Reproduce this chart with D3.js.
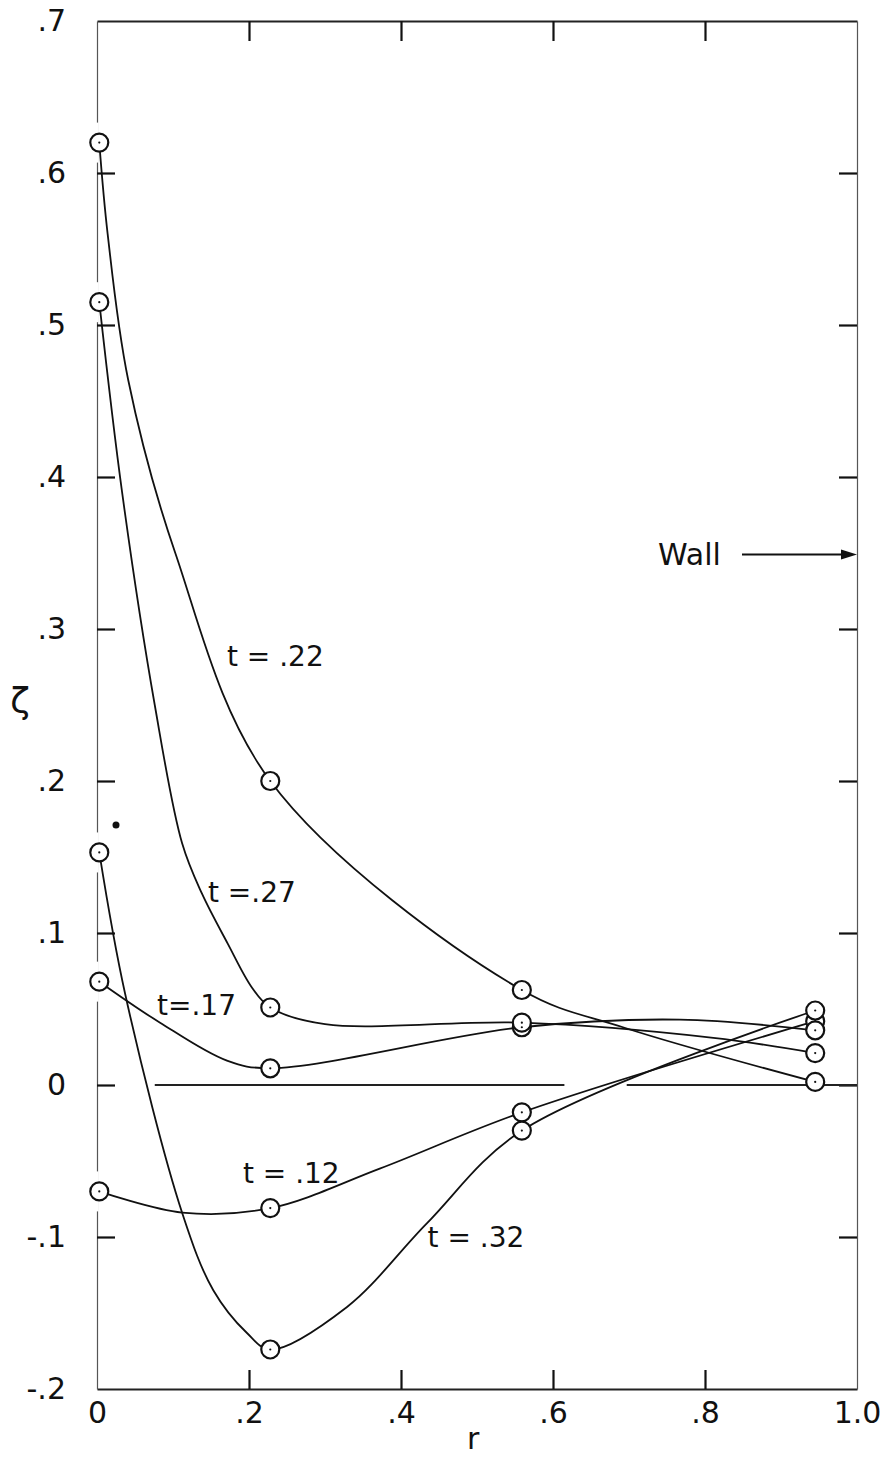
<!DOCTYPE html>
<html>
<head>
<meta charset="utf-8">
<script src="https://cdn.jsdelivr.net/npm/d3@7"></script>
<style>
  body { margin: 0; background: #fff; }
  svg { display: block; }
  text { font-family: "DejaVu Sans", sans-serif; fill: #111; }
</style>
</head>
<body>
<svg id="chart" width="882" height="1462"></svg>
<script>
var stations = [0.003, 0.228, 0.559, 0.945];

// zeta at each station (the circles), one array per time
var t12 = [-0.070, -0.081, -0.018, 0.042];
var t17 = [0.068, 0.011, 0.038, 0.036];
var t22 = [0.620, 0.200, 0.0625, 0.002];
var t27 = [0.515, 0.051, 0.041, 0.021];
var t32 = [0.153, -0.174, -0.030, 0.049];

// a few [r, zeta] points, between stations
var t12Trace = [[0.112, -0.084], [0.372, -0.055]];
var t17Trace = [[0.083, 0.041], [0.171, 0.016], [0.767, 0.043]];
var t22Trace = [[0.014, 0.560], [0.041, 0.464], [0.103, 0.350], [0.692, 0.038]];
var t27Trace = [[0.033, 0.390], [0.076, 0.250], [0.112, 0.159], [0.138, 0.126], [0.172, 0.093], [0.204, 0.064],
                [0.300, 0.040], [0.811, 0.031]];
var t32Trace = [[0.037, 0.060], [0.112, -0.084], [0.153, -0.135], [0.197, -0.163],
                [0.329, -0.146], [0.434, -0.091]];

var seriesNames = ["t = .12", "t=.17", "t = .22", "t =.27", "t = .32"];
// label anchor (r, zeta) for each curve name
var labelR = [0.192, 0.079, 0.171, 0.146, 0.435];
var labelZ = [-0.058, 0.053, 0.282, 0.127, -0.100];

var xTicks = [0, 0.2, 0.4, 0.6, 0.8, 1.0];
var xTickLabels = ["0", ".2", ".4", ".6", ".8", "1.0"];
var yTicks = [-0.2, -0.1, 0, 0.1, 0.2, 0.3, 0.4, 0.5, 0.6, 0.7];
var yTickLabels = ["-.2", "-.1", "0", ".1", ".2", ".3", ".4", ".5", ".6", ".7"];

// the broken zero reference line
var zeroSegments = [[0.076, 0.615], [0.697, 1.0]];
// stray ink dot on the original
var speck = [0.025, 0.171];

var svg = d3.select("#chart");
var x = d3.scaleLinear().domain([0, 1]).range([97, 857]);
var y = d3.scaleLinear().domain([-0.2, 0.7]).range([1389, 21]);

var traces = [t12Trace, t17Trace, t22Trace, t27Trace, t32Trace];
var series = [t12, t17, t22, t27, t32].map(function(vals, i){
    var pts = stations.map(function(r, j){ return [r, vals[j]] });
    var path = pts.concat(traces[i]).sort(function(a, b){ return a[0] - b[0] });
    return { name: seriesNames[i], pts: pts, path: path };
});

// axes, ticks pointing inward
var innerTicks = xTicks.slice(1, -1);
var yInner = yTicks.slice(1, -1);

var bottom = svg.append("g").attr("transform", "translate(0," + y(-0.2) + ")")
    .call(d3.axisBottom(x).tickValues(xTicks).tickSizeInner(0).tickSizeOuter(0).tickPadding(13)
        .tickFormat(function(d, i){ return xTickLabels[i] }));
bottom.selectAll(".tick text").attr("font-size", 30);
svg.append("g").attr("transform", "translate(0," + y(-0.2) + ")")
    .call(d3.axisBottom(x).tickValues(innerTicks).tickSizeInner(-19).tickSizeOuter(0).tickFormat(""))
    .select(".domain").remove();

svg.append("g").attr("transform", "translate(0," + y(0.7) + ")")
    .call(d3.axisTop(x).tickValues(innerTicks).tickSizeInner(-20).tickSizeOuter(0).tickFormat(""));

var left = svg.append("g").attr("transform", "translate(" + x(0) + ",0)")
    .call(d3.axisLeft(y).tickValues(yTicks).tickSizeInner(0).tickSizeOuter(0).tickPadding(31)
        .tickFormat(function(d, i){ return yTickLabels[i] }));
left.selectAll(".tick text").attr("font-size", 30);
svg.append("g").attr("transform", "translate(" + x(0) + ",0)")
    .call(d3.axisLeft(y).tickValues(yInner).tickSizeInner(-18).tickSizeOuter(0).tickFormat(""))
    .select(".domain").remove();

var right = svg.append("g").attr("transform", "translate(" + x(1) + ",0)")
    .call(d3.axisRight(y).tickValues(yInner).tickSizeInner(-18).tickSizeOuter(0).tickFormat(""));

svg.selectAll(".domain").attr("stroke", "#222").attr("stroke-width", 2);
left.select(".domain").attr("stroke", "#555").attr("stroke-width", 1.2);
right.select(".domain").attr("stroke", "#555").attr("stroke-width", 1.2);
svg.selectAll(".tick line").attr("stroke", "#111").attr("stroke-width", 2.2);

// the left frame line is broken where the r=0 circles sit
svg.selectAll("line.gap").data(series).enter().append("line")
    .attr("class", "gap")
    .attr("x1", x(0)).attr("x2", x(0))
    .attr("y1", function(d){ return y(d.pts[0][1]) - 20 })
    .attr("y2", function(d){ return y(d.pts[0][1]) + 20 })
    .attr("stroke", "#fff").attr("stroke-width", 3);

// zero line
svg.selectAll("line.zero").data(zeroSegments).enter().append("line")
    .attr("class", "zero")
    .attr("x1", function(d){ return x(d[0]) }).attr("x2", function(d){ return x(d[1]) })
    .attr("y1", y(0)).attr("y2", y(0))
    .attr("stroke", "#222").attr("stroke-width", 1.8);

// curves
var line = d3.line()
    .x(function(d){ return x(d[0]) })
    .y(function(d){ return y(d[1]) })
    .curve(d3.curveCatmullRom.alpha(0.5));

svg.selectAll("path.curve").data(series).enter().append("path")
    .attr("class", "curve")
    .attr("d", function(d){ return line(d.path) })
    .attr("fill", "none").attr("stroke", "#111").attr("stroke-width", 1.8);

// station circles
var allPts = [];
series.forEach(function(s){ s.pts.forEach(function(p){ allPts.push(p) }) });
svg.selectAll("circle.st").data(allPts).enter().append("circle")
    .attr("class", "st")
    .attr("cx", function(d){ return x(d[0]) }).attr("cy", function(d){ return y(d[1]) })
    .attr("r", 9).attr("fill", "#fff").attr("stroke", "#111").attr("stroke-width", 2.2);
svg.selectAll("circle.dot").data(allPts).enter().append("circle")
    .attr("class", "dot")
    .attr("cx", function(d){ return x(d[0]) }).attr("cy", function(d){ return y(d[1]) })
    .attr("r", 1.1).attr("fill", "#111");

svg.append("circle").attr("cx", x(speck[0])).attr("cy", y(speck[1])).attr("r", 3.5).attr("fill", "#111");

// curve labels
svg.selectAll("text.lab").data(series).enter().append("text")
    .attr("class", "lab")
    .attr("x", function(d, i){ return x(labelR[i]) })
    .attr("y", function(d, i){ return y(labelZ[i]) })
    .attr("dy", "0.36em")
    .attr("font-size", 28)
    .text(function(d){ return d.name });

// axis titles
svg.append("text").attr("x", 20).attr("y", 700).attr("dy", "0.36em")
    .attr("text-anchor", "middle").attr("font-size", 36).text("ζ");
svg.append("text").attr("x", x(0.495)).attr("y", 1438).attr("dy", "0.36em")
    .attr("text-anchor", "middle").attr("font-size", 30).text("r");

// wall marker
var wallY = y(0.349);
svg.append("text").attr("x", 658).attr("y", wallY).attr("dy", "0.36em")
    .attr("font-size", 30).text("Wall");
svg.append("line").attr("x1", 742).attr("x2", x(1) - 12).attr("y1", wallY).attr("y2", wallY)
    .attr("stroke", "#111").attr("stroke-width", 2.2);
svg.append("path")
    .attr("d", d3.line()([[x(1) - 16, wallY - 5], [x(1), wallY], [x(1) - 16, wallY + 5]]) + "Z")
    .attr("fill", "#111");
</script>
</body>
</html>
